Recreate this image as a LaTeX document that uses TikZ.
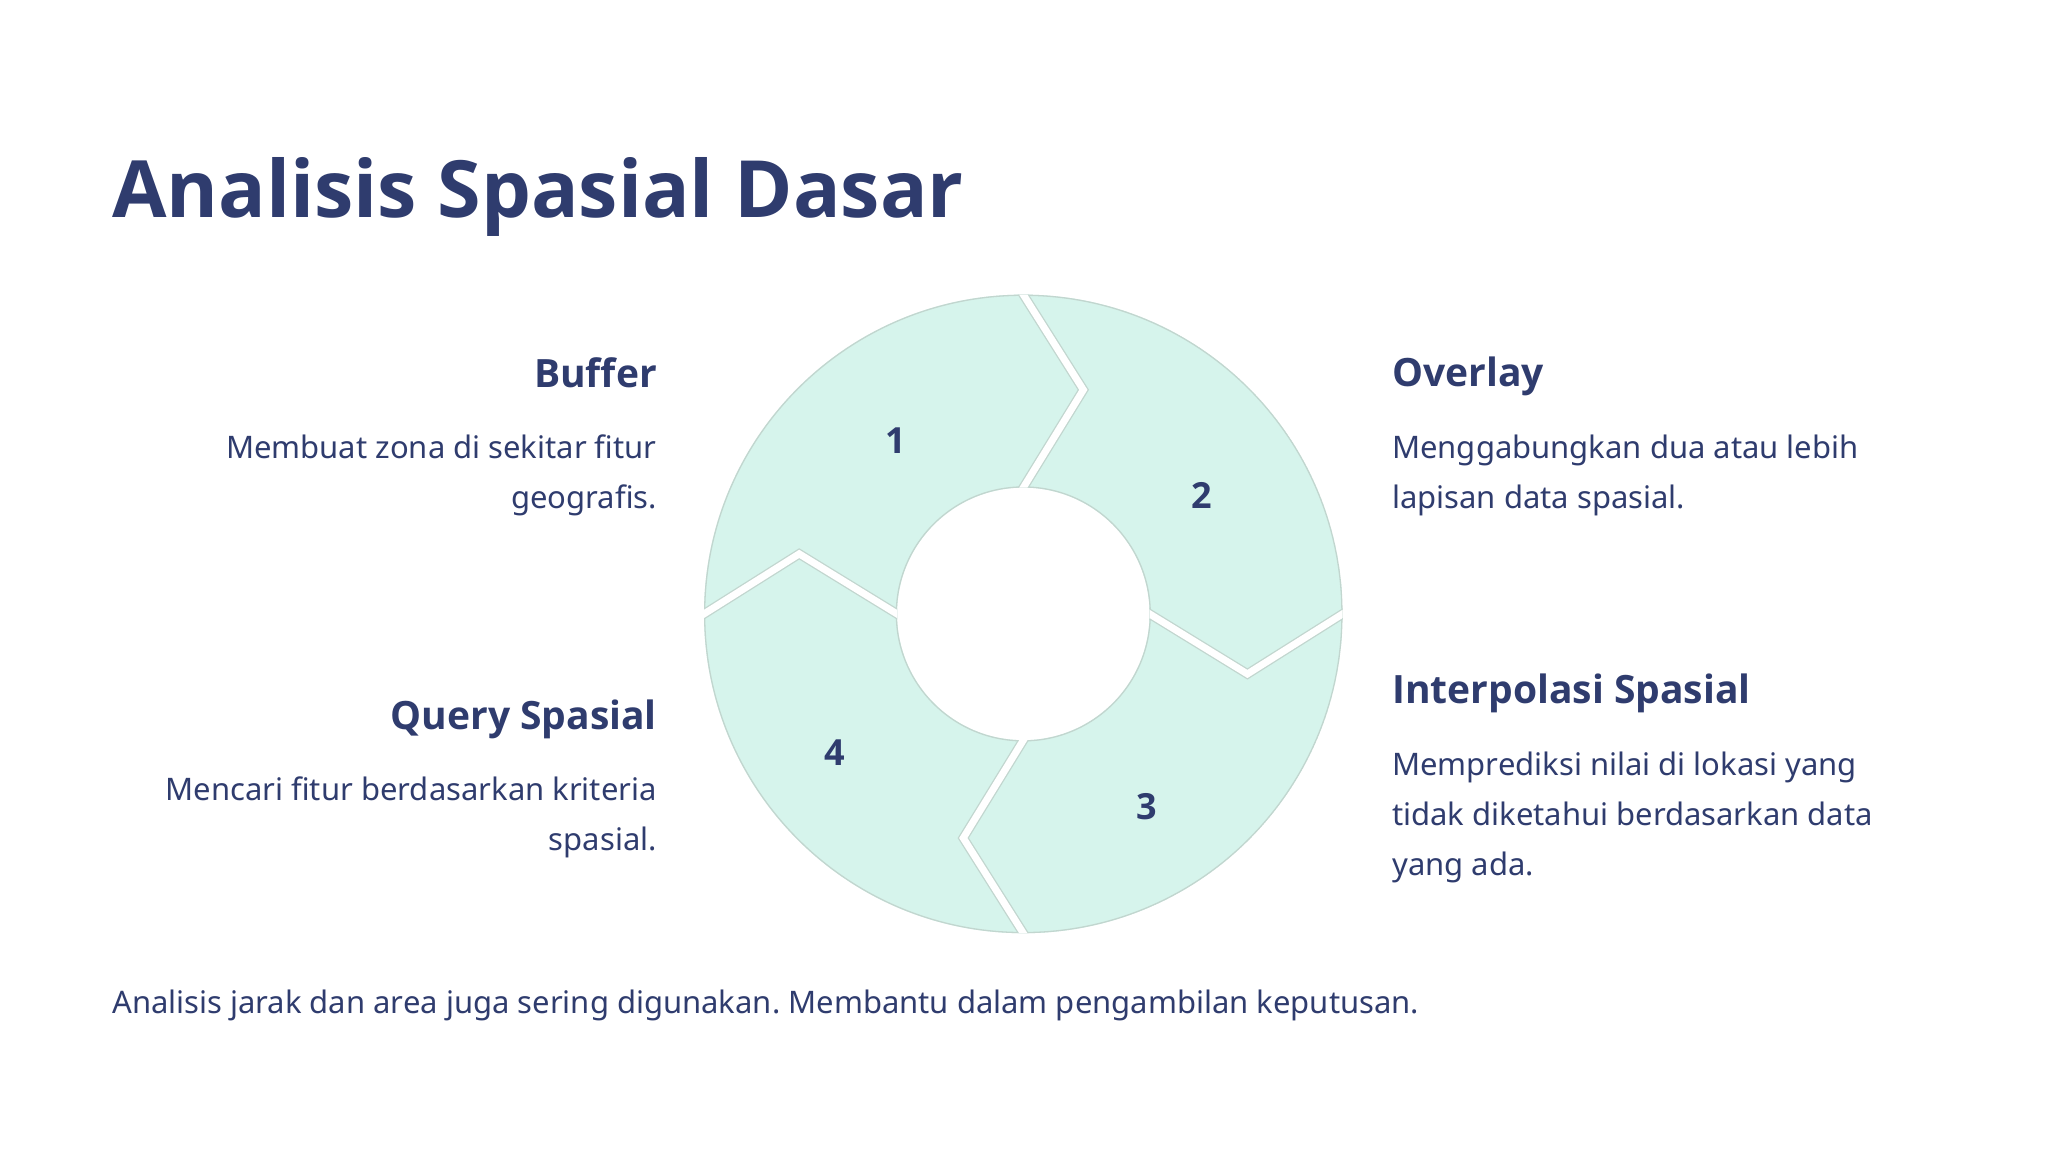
\documentclass[tikz,border=0pt]{standalone}
\usepackage{fontspec}
\setmainfont{Noto Sans}
\newfontfamily\headfont{Open Sans}
\frenchspacing
\usetikzlibrary{calc}
\definecolor{txt}{HTML}{2F3C6E}
\definecolor{segfill}{HTML}{D6F4EC}
\definecolor{segline}{HTML}{C2D6CF}
\tikzset{
  head/.style={inner sep=0pt, text=txt, font=\fontsize{39}{47}\headfont\bfseries},
  desc/.style={inner sep=0pt, text=txt, font=\fontsize{31}{36}\selectfont},
  num/.style={inner sep=0pt, text=txt, font=\fontsize{36}{42}\headfont\bfseries},
  gapline/.style={draw=segline, line width=1.3pt, double=white, double distance=7pt, line join=miter},
}
\begin{document}
\begin{tikzpicture}[x=1pt,y=1pt]
\useasboundingbox[fill=white] (0,0) rectangle (2048,-1152);
% title
\node[inner sep=0pt, anchor=base west, text=txt, font=\fontsize{79}{90}\headfont\bfseries] (title) at (112,-217) {Analisis Spasial Dasar};
% ring
\coordinate (C) at (1023.3,-613.9);
\def\Rout{319.3}
\def\Rin{126.3}
\begin{scope}[even odd rule]
  \clip (C) circle (\Rout) (C) circle (\Rin);
  \fill[segfill] (C) circle (\Rout);
  \draw[segline, line width=2.6pt] (C) circle (\Rout);
  \draw[segline, line width=2.6pt] (C) circle (\Rin);
  \foreach \a in {90,0,-90,180}{
    \coordinate (T) at ($(C)+(\a-15:232)$);
    \coordinate (O) at ($(C)+(\a:\Rout)$);
    \coordinate (I) at ($(C)+(\a:\Rin)$);
    \draw[gapline] ($(T)!1.2!(O)$) -- (T) -- ($(T)!1.3!(I)$);
  }
\end{scope}
% numbers
\node[num] (n1) at (896,-441) {1};
\node[num] (n2) at (1201.6,-495) {2};
\node[num] (n3) at (1146.8,-807) {3};
\node[num] (n4) at (834.6,-752.3) {4};
% Buffer
\node[head, anchor=base east] (bufh) at (657,-387) {Buffer};
\node[desc, anchor=base east] (bufa) at (657,-458) {Membuat zona di sekitar fitur};
\node[desc, anchor=base east] (bufb) at (657,-508) {geografis.};
% Overlay
\node[head, anchor=base west] (ovh) at (1392,-386) {Overlay};
\node[desc, anchor=base west] (ova) at (1392,-458) {Menggabungkan dua atau lebih};
\node[desc, anchor=base west] (ovb) at (1392,-508) {lapisan data spasial.};
% Interpolasi
\node[head, anchor=base west] (inh) at (1392,-703) {Interpolasi Spasial};
\node[desc, anchor=base west] (ina) at (1392,-775) {Memprediksi nilai di lokasi yang};
\node[desc, anchor=base west] (inb) at (1392,-825) {tidak diketahui berdasarkan data};
\node[desc, anchor=base west] (inc) at (1392,-875) {yang ada.};
% Query
\node[head, anchor=base east] (qh) at (657,-729) {Query Spasial};
\node[desc, anchor=base east] (qa) at (657,-800) {Mencari fitur berdasarkan kriteria};
\node[desc, anchor=base east] (qb) at (657,-850) {spasial.};
% footer
\node[desc, anchor=base west] (foot) at (112,-1013) {Analisis jarak dan area juga sering digunakan. Membantu dalam pengambilan keputusan.};
\end{tikzpicture}
\end{document}
